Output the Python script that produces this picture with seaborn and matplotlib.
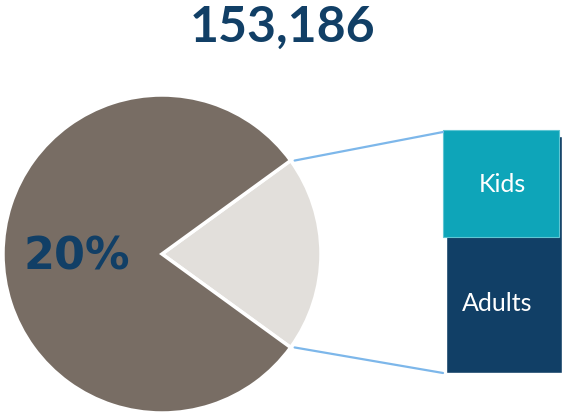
import numpy as np
import matplotlib
matplotlib.use("Agg")
import matplotlib.pyplot as plt
import seaborn as sns

# data
total_label = "153,186"
pie_labels = ["Kids", "Other"]
pie_values = [20, 80]
bar_groups = ["Kids", "Adults"]
bar_values = [44, 56]

BROWN = "#786d64"
LIGHT = "#e2dfdb"
NAVY = "#113f66"
TEAL = "#0ea5b9"
LINE = "#7db7ea"

sns.set_theme(style="white")
plt.rcParams["font.family"] = ["Lato", "DejaVu Sans"]

W, H = 562, 414
fig = plt.figure(figsize=(W / 100, H / 100), dpi=100)
ax = fig.add_axes([0, 0, 1, 1])

# pie, center/radius in pixel units
cx, cy, r = 162, H - 255, 159
half = pie_values[0] / sum(pie_values) * 180
ax.pie(pie_values, colors=[LIGHT, BROWN], startangle=-half, counterclock=True,
       center=(cx, cy), radius=r, frame=True,
       wedgeprops=dict(edgecolor="white", linewidth=2.5))
ax.set_xlim(0, W)
ax.set_ylim(0, H)
ax.set_aspect("equal")
ax.axis("off")

ax.text(cx - 85, cy - 2, f"{pie_values[0]}%", ha="center", va="center",
        fontsize=32, fontweight="bold", color=NAVY, family="DejaVu Sans")

# stacked bar
bar_top, bar_bottom = H - 131, H - 374
scale = (bar_top - bar_bottom) / sum(bar_values)
h_adults = bar_values[1] * scale
h_kids = bar_values[0] * scale
bw = 116
# adults (extends up behind kids as a shadow)
ax.bar(504, h_adults + h_kids - 6, width=bw, bottom=bar_bottom, color=NAVY)
ax.bar(501, h_kids, width=bw, bottom=bar_bottom + h_adults, color=TEAL,
       edgecolor="#5fc6d3", linewidth=0.8)
ax.text(502, bar_bottom + h_adults + h_kids / 2, bar_groups[0], ha="center",
        va="center", color="white", fontsize=18)
ax.text(497, bar_bottom + h_adults / 2 + 2, bar_groups[1], ha="center",
        va="center", color="white", fontsize=18)

# connector lines from wedge edges to bar corners
a = np.deg2rad(half)
ax.plot([cx + r * np.cos(a) + 4, 443], [cy + r * np.sin(a), bar_top - 2],
        color=LINE, lw=1.6)
ax.plot([cx + r * np.cos(a) + 4, 443], [cy - r * np.sin(a), bar_bottom],
        color=LINE, lw=1.6)

fig.text(283 / W, 1 - 27 / H, total_label, ha="center", va="center",
         fontsize=36, fontweight="bold", color=NAVY)

fig.savefig("out.png", dpi=100, facecolor="white")
